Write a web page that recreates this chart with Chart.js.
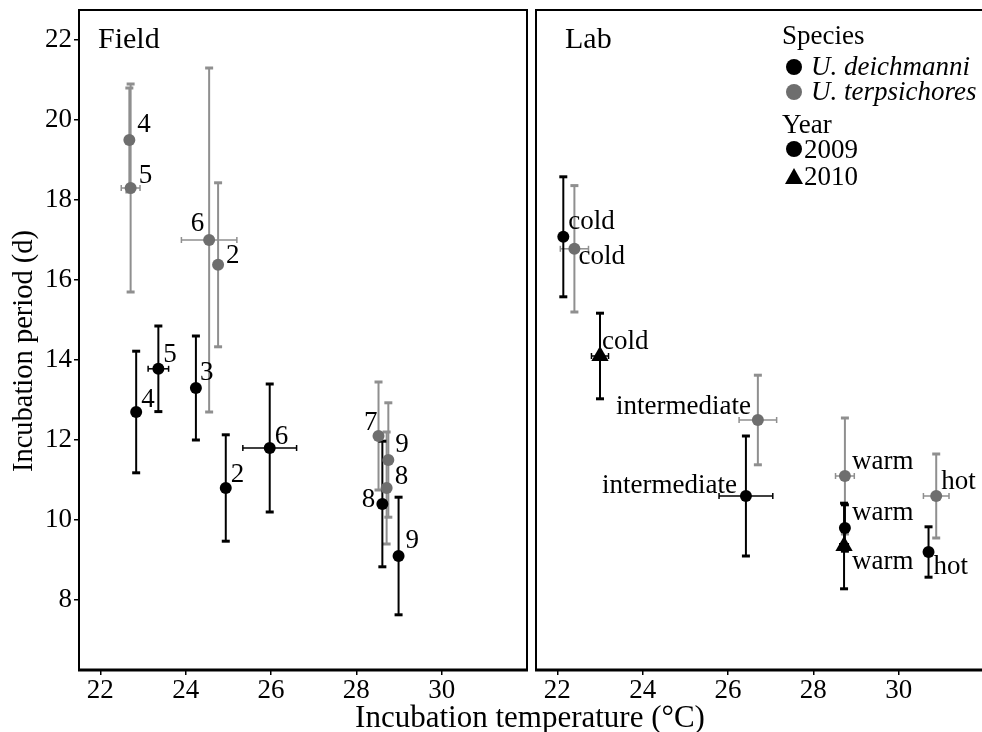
<!DOCTYPE html>
<html>
<head>
<meta charset="utf-8">
<script src="https://cdn.jsdelivr.net/npm/chart.js@4.4.1/dist/chart.umd.min.js"></script>
<style>
  html, body { margin:0; padding:0; background:#fff; overflow:hidden; }
  #wrap { position:relative; width:982px; height:732px; overflow:hidden; }
  .panel { position:absolute; top:0; height:732px; }
  #fieldBox { left:0; width:532px; }
  #labBox { left:530px; width:458px; }
  #xTitle { position:absolute; left:0; width:1060px; top:700px; line-height:34px; text-align:center;
            font-family:"Liberation Serif","Times New Roman",serif; font-size:31px; color:#000; }
</style>
</head>
<body>
<div id="wrap">
  <div class="panel" id="fieldBox"><canvas id="fieldChart" width="532" height="732"></canvas></div>
  <div class="panel" id="labBox"><canvas id="labChart" width="458" height="732"></canvas></div>
  <div id="xTitle">Incubation temperature (°C)</div>
</div>
<script>
const FONT = '"Liberation Serif", "Times New Roman", serif';
const GREY_PT  = '#6e6e6e';
const GREY_BAR = '#8f8f8f';

const xTicks = [22, 24, 26, 28, 30];
const yTicks = [8, 10, 12, 14, 16, 18, 20, 22];

// Field - U. deichmanni (2009)
const fieldDeichLabels = ['4', '5', '3', '2', '6', '8', '9'];
const fieldDeichTemp   = [22.84, 23.36, 24.24, 24.94, 25.97, 28.61, 28.99];
const fieldDeichTempSE = [0, 0.24, 0, 0, 0.63, 0, 0];
const fieldDeichDays   = [12.7, 13.78, 13.3, 10.8, 11.8, 10.4, 9.1];
const fieldDeichDaysSE = [1.52, 1.07, 1.3, 1.33, 1.6, 1.57, 1.47];

// Field - U. terpsichores (2009)
const fieldTerpLabels = ['4', '5', '6', '2', '7', '9', '8'];
const fieldTerpTemp   = [22.68, 22.71, 24.55, 24.76, 28.52, 28.75, 28.71];
const fieldTerpTempSE = [0, 0.22, 0.65, 0, 0, 0, 0];
const fieldTerpDays   = [19.5, 18.3, 17.0, 16.38, 12.1, 11.5, 10.8];
const fieldTerpDaysSE = [1.3, 2.6, 4.3, 2.05, 1.35, 1.43, 1.4];

// Lab - U. deichmanni 2009
const labDeichLabels = ['cold', 'intermediate', 'warm', 'hot'];
const labDeichTemp   = [22.14, 26.42, 28.74, 30.7];
const labDeichTempSE = [0, 0.63, 0, 0];
const labDeichDays   = [17.08, 10.6, 9.8, 9.2];
const labDeichDaysSE = [1.5, 1.5, 0.58, 0.63];

// Lab - U. deichmanni 2010
const labDeich10Labels = ['cold', 'warm'];
const labDeich10Temp   = [23.0, 28.72];
const labDeich10TempSE = [0.2, 0.1];
const labDeich10Days   = [14.1, 9.35];
const labDeich10DaysSE = [1.07, 1.07];

// Lab - U. terpsichores 2009
const labTerpLabels = ['cold', 'intermediate', 'warm', 'hot'];
const labTerpTemp   = [22.4, 26.7, 28.74, 30.88];
const labTerpTempSE = [0.33, 0.44, 0.22, 0.3];
const labTerpDays   = [16.78, 12.5, 11.1, 10.6];
const labTerpDaysSE = [1.58, 1.12, 1.45, 1.05];

// label placement (px offset from the point; negative dx = right aligned)
const fieldDeichLabelOff = [[5,-12],[5,-14],[4,-15],[5,-13],[5,-11],[-7,-4],[7,-15]];
const fieldTerpLabelOff  = [[8,-15],[8,-12],[-5,-16],[8,-9],[-1,-13],[7,-15],[8,-11]];
const labDeichLabelOff   = [[5,-15],[-9,-10],[7,-15],[5,15]];
const labDeich10LabelOff = [[2,-14],[8,16]];
const labTerpLabelOff    = [[4,8],[-7,-13],[7,-14],[5,-14]];

function pts(temp, tempSE, days, daysSE, labels){
  return temp.map((t, i) => ({ x: t, y: days[i], xe: tempSE[i], ye: daysSE[i], label: labels[i] }));
}

function seg(ctx, x1, y1, x2, y2){
  ctx.beginPath(); ctx.moveTo(x1, y1); ctx.lineTo(x2, y2); ctx.stroke();
}

// no automatic edge padding, the frame must sit exactly where it is in the figure
function noPad(s){
  s.paddingLeft = 0; s.paddingRight = 0; s.paddingTop = 0; s.paddingBottom = 0;
}

const errorBars = {
  id: 'errorBars',
  beforeDatasetsDraw(chart){
    const { ctx } = chart, x = chart.scales.x, y = chart.scales.y;
    ctx.save();
    chart.data.datasets.forEach(ds => {
      ctx.strokeStyle = ds.errColor;
      ds.data.forEach(p => {
        const px = x.getPixelForValue(p.x), py = y.getPixelForValue(p.y);
        if (p.ye){
          const t = y.getPixelForValue(p.y + p.ye), b = y.getPixelForValue(p.y - p.ye);
          ctx.lineWidth = 2;
          seg(ctx, px, t, px, b);
          ctx.lineWidth = 3;
          seg(ctx, px - 4, t, px + 4, t);
          seg(ctx, px - 4, b, px + 4, b);
        }
        if (p.xe){
          const l = x.getPixelForValue(p.x - p.xe), r = x.getPixelForValue(p.x + p.xe);
          ctx.lineWidth = 1.5;
          seg(ctx, l, py, r, py);
          seg(ctx, l, py - 3, l, py + 3);
          seg(ctx, r, py - 3, r, py + 3);
        }
      });
    });
    ctx.restore();
  },
  afterDatasetsDraw(chart){
    const { ctx } = chart, x = chart.scales.x, y = chart.scales.y;
    ctx.save();
    ctx.font = '27px ' + FONT;
    ctx.fillStyle = '#000';
    ctx.textBaseline = 'middle';
    chart.data.datasets.forEach(ds => {
      ds.data.forEach((p, i) => {
        const off = ds.labelOff[i];
        ctx.textAlign = off[0] < 0 ? 'right' : 'left';
        ctx.fillText(p.label, x.getPixelForValue(p.x) + off[0], y.getPixelForValue(p.y) + off[1]);
      });
    });
    ctx.restore();
  }
};

const frame = {
  id: 'frame',
  afterDraw(chart, args, opts){
    const { ctx, chartArea: a } = chart;
    ctx.save();
    ctx.strokeStyle = '#000';
    ctx.lineWidth = 2;
    ctx.strokeRect(a.left, a.top, a.right - a.left, a.bottom - a.top);
    ctx.lineWidth = 3;
    seg(ctx, a.left - 1, a.bottom, a.right + 1, a.bottom);
    ctx.font = '30px ' + FONT;
    ctx.fillStyle = '#000';
    ctx.textAlign = 'left';
    ctx.textBaseline = 'alphabetic';
    ctx.fillText(opts.title, a.left + opts.titleDx, 48);
    if (opts.yTitle){
      ctx.translate(25, 351);
      ctx.rotate(-Math.PI / 2);
      ctx.font = '28.5px ' + FONT;
      ctx.textAlign = 'center';
      ctx.textBaseline = 'middle';
      ctx.fillText(opts.yTitle, 0, 0);
    }
    ctx.restore();
  }
};

const speciesLegend = {
  id: 'speciesLegend',
  afterDraw(chart){
    const { ctx } = chart;
    const mx = 264;
    ctx.save();
    ctx.fillStyle = '#000';
    ctx.textAlign = 'left';
    ctx.textBaseline = 'alphabetic';
    ctx.font = '27px ' + FONT;
    ctx.fillText('Species', 252, 44);
    ctx.fillText('Year', 252, 133);
    ctx.font = 'italic 27px ' + FONT;
    ctx.fillText('U. deichmanni', 281, 75);
    ctx.fillText('U. terpsichores', 281, 100);
    ctx.font = '27px ' + FONT;
    ctx.fillText('2009', 274, 158);
    ctx.fillText('2010', 274, 185);
    ctx.beginPath(); ctx.arc(mx, 67, 8, 0, Math.PI * 2); ctx.fill();
    ctx.fillStyle = GREY_PT;
    ctx.beginPath(); ctx.arc(mx, 92, 8, 0, Math.PI * 2); ctx.fill();
    ctx.fillStyle = '#000';
    ctx.beginPath(); ctx.arc(mx, 149, 8, 0, Math.PI * 2); ctx.fill();
    ctx.beginPath(); ctx.moveTo(mx, 168); ctx.lineTo(mx + 9, 184); ctx.lineTo(mx - 9, 184); ctx.closePath(); ctx.fill();
    ctx.restore();
  }
};

function xScale(){
  return {
    type: 'linear', min: 21.5, max: 32,
    afterBuildTicks: s => { s.ticks = xTicks.map(v => ({ value: v })); },
    afterFit: s => { s.height = 62; noPad(s); },
    grid: { display: true, drawOnChartArea: false, drawTicks: true, tickLength: 5, color: '#000', lineWidth: 1.5 },
    border: { display: false },
    ticks: { font: { family: FONT, size: 27 }, color: '#000', padding: 0, maxRotation: 0 }
  };
}

function dataset(points, color, barColor, style, radius, labelOff){
  return {
    data: points, pointStyle: style, pointRadius: radius, pointHoverRadius: radius,
    backgroundColor: color, borderColor: color, borderWidth: 0, showLine: false,
    errColor: barColor, labelOff: labelOff
  };
}

new Chart(document.getElementById('fieldChart'), {
  type: 'scatter',
  data: { datasets: [
    dataset(pts(fieldTerpTemp, fieldTerpTempSE, fieldTerpDays, fieldTerpDaysSE, fieldTerpLabels), GREY_PT, GREY_BAR, 'circle', 6, fieldTerpLabelOff),
    dataset(pts(fieldDeichTemp, fieldDeichTempSE, fieldDeichDays, fieldDeichDaysSE, fieldDeichLabels), '#000', '#000', 'circle', 6, fieldDeichLabelOff)
  ]},
  options: {
    responsive: false, animation: false, events: [],
    layout: { autoPadding: false, padding: { left: 0, right: 5, top: 10, bottom: 0 } },
    scales: {
      x: xScale(),
      y: {
        type: 'linear', min: 6.25, max: 22.75,
        afterBuildTicks: s => { s.ticks = yTicks.map(v => ({ value: v })); },
        afterFit: s => { s.width = 79; noPad(s); },
        grid: { display: true, drawOnChartArea: false, drawTicks: true, tickLength: 5, color: '#000', lineWidth: 1.5 },
        border: { display: false },
        ticks: { font: { family: FONT, size: 27 }, color: '#000', padding: 2 }
      }
    },
    plugins: { legend: { display: false }, tooltip: { enabled: false },
               frame: { title: 'Field', titleDx: 19, yTitle: 'Incubation period (d)' } }
  },
  plugins: [errorBars, frame]
});

new Chart(document.getElementById('labChart'), {
  type: 'scatter',
  data: { datasets: [
    dataset(pts(labTerpTemp, labTerpTempSE, labTerpDays, labTerpDaysSE, labTerpLabels), GREY_PT, GREY_BAR, 'circle', 6, labTerpLabelOff),
    dataset(pts(labDeichTemp, labDeichTempSE, labDeichDays, labDeichDaysSE, labDeichLabels), '#000', '#000', 'circle', 6, labDeichLabelOff),
    dataset(pts(labDeich10Temp, labDeich10TempSE, labDeich10Days, labDeich10DaysSE, labDeich10Labels), '#000', '#000', 'triangle', 10, labDeich10LabelOff)
  ]},
  options: {
    responsive: false, animation: false, events: [],
    layout: { autoPadding: false, padding: { left: 6, right: 4, top: 10, bottom: 0 } },
    scales: {
      x: xScale(),
      y: { type: 'linear', min: 6.25, max: 22.75, display: false }
    },
    plugins: { legend: { display: false }, tooltip: { enabled: false }, frame: { title: 'Lab', titleDx: 29 } }
  },
  plugins: [errorBars, frame, speciesLegend]
});
</script>
</body>
</html>
